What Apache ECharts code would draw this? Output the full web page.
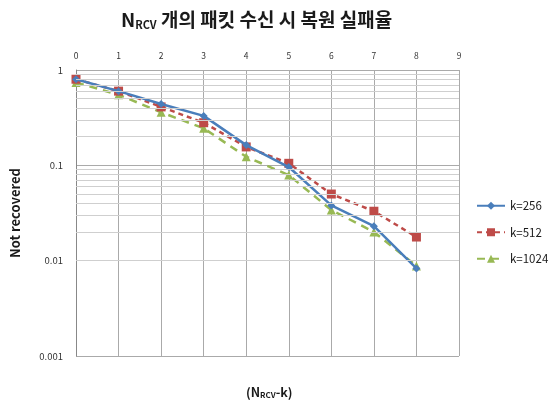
<!DOCTYPE html>
<html><head><meta charset="utf-8">
<script src="https://cdn.jsdelivr.net/npm/echarts@6/dist/echarts.min.js"></script>
<style>html,body{margin:0;padding:0;background:#fff}#c{width:560px;height:405px}</style>
</head><body><div id="c"></div>
<script>
const categories = [0,1,2,3,4,5,6,7,8];
const xTicks = [0,1,2,3,4,5,6,7,8,9];
const k256 = [0.80,0.60,0.44,0.33,0.163,0.096,0.038,0.023,0.0083];
const k512 = [0.80,0.60,0.41,0.28,0.156,0.105,0.050,0.033,0.0177];
const k1024 = [0.74,0.55,0.36,0.245,0.123,0.079,0.034,0.020,0.0088];
const yTicks = [0.001,0.01,0.1,1];
const minorLines = [];
[0.001,0.01,0.1].forEach(d=>{for(let m=2;m<=9;m++) minorLines.push(+(d*m).toPrecision(3));});

const font = '"Noto Sans CJK KR","Open Sans",sans-serif';
const chart = echarts.init(document.getElementById('c'));
function pts(arr){return arr.map((v,i)=>[categories[i],v]);}
chart.setOption({
  animation:false,
  title:[{
    text:'{a|N}{b|RCV}{a| 개의 패킷 수신 시 복원 실패율}',
    left:116, top:5,
    textStyle:{rich:{
      a:{fontFamily:font,fontWeight:'bold',fontSize:19,color:'#1a1a1a'},
      b:{fontFamily:font,fontWeight:'bold',fontSize:11,color:'#1a1a1a',verticalAlign:'bottom',padding:[9,0,0,0]}
    }}
  },{
    text:'{a|(N}{b|RCV}{a|-k)}',
    left:241, top:380,
    textStyle:{rich:{
      a:{fontFamily:font,fontWeight:'bold',fontSize:12.5,color:'#1a1a1a'},
      b:{fontFamily:font,fontWeight:'bold',fontSize:8,color:'#1a1a1a',padding:[6,0,0,0]}
    }}
  }],
  grid:{left:76,right:101,top:70,bottom:49},
  legend:{
    orient:'vertical', left:471, top:195, itemGap:15, itemWidth:28, itemHeight:10,
    textStyle:{fontFamily:font,fontSize:11.5,color:'#1a1a1a'},
    data:['k=256','k=512','k=1024']
  },
  xAxis:{
    type:'value', position:'top', min:0, max:9, interval:1,
    axisLine:{show:false}, axisTick:{show:false},
    axisLabel:{fontFamily:font,fontSize:8.5,color:'#333',margin:10,
      formatter:v=>xTicks.includes(v)?String(v):''},
    splitLine:{show:true,lineStyle:{color:'#aaa',width:1}}
  },
  yAxis:{
    type:'log', logBase:10, min:0.001, max:1,
    name:'Not recovered', nameLocation:'middle', nameGap:54, nameRotate:90,
    nameTextStyle:{fontFamily:font,fontWeight:'bold',fontSize:13,color:'#1a1a1a'},
    axisLine:{show:true,lineStyle:{color:'#888'}}, axisTick:{show:false},
    axisLabel:{fontFamily:font,fontSize:9.5,color:'#333',margin:13,
      formatter:v=>{const t=yTicks.find(x=>Math.abs(x-v)/x<1e-6);return t===undefined?'':String(t);}},
    splitLine:{show:true,lineStyle:{color:'#aaa',width:1}}
  },
  series:[
    {name:'k=256',type:'line',data:pts(k256),symbol:'diamond',symbolSize:8,
      lineStyle:{color:'#4A7EBB',width:2.5},itemStyle:{color:'#4A7EBB'},z:4,
      markLine:{silent:true,symbol:['none','none'],label:{show:false},animation:false,
        lineStyle:{color:'#cfcfcf',type:'solid',width:1},
        data:minorLines.map(v=>({yAxis:v}))}},
    {name:'k=512',type:'line',data:pts(k512),symbol:'rect',symbolSize:9,
      lineStyle:{color:'#BE4B48',width:2.5,type:[5,4]},itemStyle:{color:'#BE4B48'},z:3},
    {name:'k=1024',type:'line',data:pts(k1024),symbol:'triangle',symbolSize:9,
      lineStyle:{color:'#98B954',width:2.5,type:[8,6]},itemStyle:{color:'#98B954'},z:2}
  ]
});
</script></body></html>
